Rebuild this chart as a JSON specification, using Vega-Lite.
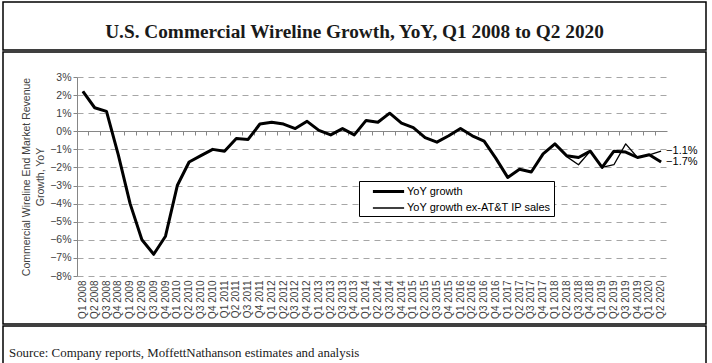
{
  "$schema": "https://vega.github.io/schema/vega-lite/v6.json",
  "padding": {"left": 2, "top": 1, "right": 0, "bottom": 0},
  "spacing": 0,
  "background": "white",
  "config": {"view": {"stroke": "black", "strokeWidth": 1.5}, "font": "Liberation Sans"},
  "vconcat": [
    {
      "width": 703,
      "height": 48,
      "data": {"values": [{"title": "U.S. Commercial Wireline Growth, YoY, Q1 2008 to Q2 2020"}]},
      "mark": {"type": "text", "font": "Liberation Serif", "fontWeight": "bold", "fontSize": 19.3, "baseline": "alphabetic", "align": "center", "color": "#1a1a1a"},
      "encoding": {
        "text": {"field": "title"},
        "x": {"datum": 0.5, "type": "quantitative", "scale": {"domain": [0, 1]}, "axis": null},
        "y": {"datum": 0.25, "type": "quantitative", "scale": {"domain": [0, 1]}, "axis": null}
      }
    },
    {
      "width": 703,
      "height": 272,
      "data": {"values": [
        {"quarter": "Q1 2008", "series": "YoY growth", "value": 0.022},
        {"quarter": "Q2 2008", "series": "YoY growth", "value": 0.013},
        {"quarter": "Q3 2008", "series": "YoY growth", "value": 0.011},
        {"quarter": "Q4 2008", "series": "YoY growth", "value": -0.013},
        {"quarter": "Q1 2009", "series": "YoY growth", "value": -0.040},
        {"quarter": "Q2 2009", "series": "YoY growth", "value": -0.060},
        {"quarter": "Q3 2009", "series": "YoY growth", "value": -0.068},
        {"quarter": "Q4 2009", "series": "YoY growth", "value": -0.058},
        {"quarter": "Q1 2010", "series": "YoY growth", "value": -0.030},
        {"quarter": "Q2 2010", "series": "YoY growth", "value": -0.017},
        {"quarter": "Q3 2010", "series": "YoY growth", "value": -0.0135},
        {"quarter": "Q4 2010", "series": "YoY growth", "value": -0.010},
        {"quarter": "Q1 2011", "series": "YoY growth", "value": -0.011},
        {"quarter": "Q2 2011", "series": "YoY growth", "value": -0.004},
        {"quarter": "Q3 2011", "series": "YoY growth", "value": -0.0045},
        {"quarter": "Q4 2011", "series": "YoY growth", "value": 0.004},
        {"quarter": "Q1 2012", "series": "YoY growth", "value": 0.005},
        {"quarter": "Q2 2012", "series": "YoY growth", "value": 0.004},
        {"quarter": "Q3 2012", "series": "YoY growth", "value": 0.0015},
        {"quarter": "Q4 2012", "series": "YoY growth", "value": 0.0055},
        {"quarter": "Q1 2013", "series": "YoY growth", "value": 0.0005},
        {"quarter": "Q2 2013", "series": "YoY growth", "value": -0.002},
        {"quarter": "Q3 2013", "series": "YoY growth", "value": 0.0015},
        {"quarter": "Q4 2013", "series": "YoY growth", "value": -0.002},
        {"quarter": "Q1 2014", "series": "YoY growth", "value": 0.006},
        {"quarter": "Q2 2014", "series": "YoY growth", "value": 0.005},
        {"quarter": "Q3 2014", "series": "YoY growth", "value": 0.010},
        {"quarter": "Q4 2014", "series": "YoY growth", "value": 0.0045},
        {"quarter": "Q1 2015", "series": "YoY growth", "value": 0.002},
        {"quarter": "Q2 2015", "series": "YoY growth", "value": -0.0035},
        {"quarter": "Q3 2015", "series": "YoY growth", "value": -0.006},
        {"quarter": "Q4 2015", "series": "YoY growth", "value": -0.0025},
        {"quarter": "Q1 2016", "series": "YoY growth", "value": 0.0015},
        {"quarter": "Q2 2016", "series": "YoY growth", "value": -0.0025},
        {"quarter": "Q3 2016", "series": "YoY growth", "value": -0.0055},
        {"quarter": "Q4 2016", "series": "YoY growth", "value": -0.015},
        {"quarter": "Q1 2017", "series": "YoY growth", "value": -0.0255},
        {"quarter": "Q2 2017", "series": "YoY growth", "value": -0.021},
        {"quarter": "Q3 2017", "series": "YoY growth", "value": -0.0225},
        {"quarter": "Q4 2017", "series": "YoY growth", "value": -0.0125},
        {"quarter": "Q1 2018", "series": "YoY growth", "value": -0.007},
        {"quarter": "Q2 2018", "series": "YoY growth", "value": -0.0135},
        {"quarter": "Q3 2018", "series": "YoY growth", "value": -0.0145},
        {"quarter": "Q4 2018", "series": "YoY growth", "value": -0.011},
        {"quarter": "Q1 2019", "series": "YoY growth", "value": -0.020},
        {"quarter": "Q2 2019", "series": "YoY growth", "value": -0.011},
        {"quarter": "Q3 2019", "series": "YoY growth", "value": -0.0115},
        {"quarter": "Q4 2019", "series": "YoY growth", "value": -0.0145},
        {"quarter": "Q1 2020", "series": "YoY growth", "value": -0.013},
        {"quarter": "Q2 2020", "series": "YoY growth", "value": -0.017},
        {"quarter": "Q1 2008", "series": "YoY growth ex-AT&T IP sales", "value": 0.022},
        {"quarter": "Q2 2008", "series": "YoY growth ex-AT&T IP sales", "value": 0.013},
        {"quarter": "Q3 2008", "series": "YoY growth ex-AT&T IP sales", "value": 0.011},
        {"quarter": "Q4 2008", "series": "YoY growth ex-AT&T IP sales", "value": -0.013},
        {"quarter": "Q1 2009", "series": "YoY growth ex-AT&T IP sales", "value": -0.040},
        {"quarter": "Q2 2009", "series": "YoY growth ex-AT&T IP sales", "value": -0.060},
        {"quarter": "Q3 2009", "series": "YoY growth ex-AT&T IP sales", "value": -0.068},
        {"quarter": "Q4 2009", "series": "YoY growth ex-AT&T IP sales", "value": -0.058},
        {"quarter": "Q1 2010", "series": "YoY growth ex-AT&T IP sales", "value": -0.030},
        {"quarter": "Q2 2010", "series": "YoY growth ex-AT&T IP sales", "value": -0.017},
        {"quarter": "Q3 2010", "series": "YoY growth ex-AT&T IP sales", "value": -0.0135},
        {"quarter": "Q4 2010", "series": "YoY growth ex-AT&T IP sales", "value": -0.010},
        {"quarter": "Q1 2011", "series": "YoY growth ex-AT&T IP sales", "value": -0.011},
        {"quarter": "Q2 2011", "series": "YoY growth ex-AT&T IP sales", "value": -0.004},
        {"quarter": "Q3 2011", "series": "YoY growth ex-AT&T IP sales", "value": -0.0045},
        {"quarter": "Q4 2011", "series": "YoY growth ex-AT&T IP sales", "value": 0.004},
        {"quarter": "Q1 2012", "series": "YoY growth ex-AT&T IP sales", "value": 0.005},
        {"quarter": "Q2 2012", "series": "YoY growth ex-AT&T IP sales", "value": 0.004},
        {"quarter": "Q3 2012", "series": "YoY growth ex-AT&T IP sales", "value": 0.0015},
        {"quarter": "Q4 2012", "series": "YoY growth ex-AT&T IP sales", "value": 0.0055},
        {"quarter": "Q1 2013", "series": "YoY growth ex-AT&T IP sales", "value": 0.0005},
        {"quarter": "Q2 2013", "series": "YoY growth ex-AT&T IP sales", "value": -0.002},
        {"quarter": "Q3 2013", "series": "YoY growth ex-AT&T IP sales", "value": 0.0015},
        {"quarter": "Q4 2013", "series": "YoY growth ex-AT&T IP sales", "value": -0.002},
        {"quarter": "Q1 2014", "series": "YoY growth ex-AT&T IP sales", "value": 0.006},
        {"quarter": "Q2 2014", "series": "YoY growth ex-AT&T IP sales", "value": 0.005},
        {"quarter": "Q3 2014", "series": "YoY growth ex-AT&T IP sales", "value": 0.010},
        {"quarter": "Q4 2014", "series": "YoY growth ex-AT&T IP sales", "value": 0.0045},
        {"quarter": "Q1 2015", "series": "YoY growth ex-AT&T IP sales", "value": 0.002},
        {"quarter": "Q2 2015", "series": "YoY growth ex-AT&T IP sales", "value": -0.0035},
        {"quarter": "Q3 2015", "series": "YoY growth ex-AT&T IP sales", "value": -0.006},
        {"quarter": "Q4 2015", "series": "YoY growth ex-AT&T IP sales", "value": -0.0025},
        {"quarter": "Q1 2016", "series": "YoY growth ex-AT&T IP sales", "value": 0.0015},
        {"quarter": "Q2 2016", "series": "YoY growth ex-AT&T IP sales", "value": -0.0025},
        {"quarter": "Q3 2016", "series": "YoY growth ex-AT&T IP sales", "value": -0.0055},
        {"quarter": "Q4 2016", "series": "YoY growth ex-AT&T IP sales", "value": -0.015},
        {"quarter": "Q1 2017", "series": "YoY growth ex-AT&T IP sales", "value": -0.0255},
        {"quarter": "Q2 2017", "series": "YoY growth ex-AT&T IP sales", "value": -0.021},
        {"quarter": "Q3 2017", "series": "YoY growth ex-AT&T IP sales", "value": -0.0225},
        {"quarter": "Q4 2017", "series": "YoY growth ex-AT&T IP sales", "value": -0.0125},
        {"quarter": "Q1 2018", "series": "YoY growth ex-AT&T IP sales", "value": -0.007},
        {"quarter": "Q2 2018", "series": "YoY growth ex-AT&T IP sales", "value": -0.014},
        {"quarter": "Q3 2018", "series": "YoY growth ex-AT&T IP sales", "value": -0.0185},
        {"quarter": "Q4 2018", "series": "YoY growth ex-AT&T IP sales", "value": -0.011},
        {"quarter": "Q1 2019", "series": "YoY growth ex-AT&T IP sales", "value": -0.020},
        {"quarter": "Q2 2019", "series": "YoY growth ex-AT&T IP sales", "value": -0.0185},
        {"quarter": "Q3 2019", "series": "YoY growth ex-AT&T IP sales", "value": -0.007},
        {"quarter": "Q4 2019", "series": "YoY growth ex-AT&T IP sales", "value": -0.0145},
        {"quarter": "Q1 2020", "series": "YoY growth ex-AT&T IP sales", "value": -0.013},
        {"quarter": "Q2 2020", "series": "YoY growth ex-AT&T IP sales", "value": -0.011}
      ]},
      "layer": [
        {
          "mark": {"type": "line", "color": "black", "strokeJoin": "round"},
          "encoding": {
            "x": {
              "field": "quarter", "type": "ordinal", "sort": null,
              "scale": {"type": "band", "range": [74, 664], "paddingInner": 0, "paddingOuter": 0,
                "domain": ["Q1 2008","Q2 2008","Q3 2008","Q4 2008","Q1 2009","Q2 2009","Q3 2009","Q4 2009","Q1 2010","Q2 2010","Q3 2010","Q4 2010","Q1 2011","Q2 2011","Q3 2011","Q4 2011","Q1 2012","Q2 2012","Q3 2012","Q4 2012","Q1 2013","Q2 2013","Q3 2013","Q4 2013","Q1 2014","Q2 2014","Q3 2014","Q4 2014","Q1 2015","Q2 2015","Q3 2015","Q4 2015","Q1 2016","Q2 2016","Q3 2016","Q4 2016","Q1 2017","Q2 2017","Q3 2017","Q4 2017","Q1 2018","Q2 2018","Q3 2018","Q4 2018","Q1 2019","Q2 2019","Q3 2019","Q4 2019","Q1 2020","Q2 2020"]},
              "axis": {"orient": "bottom", "offset": -48, "title": null, "domain": false, "ticks": false, "grid": false,
                "labelAngle": -90, "labelFontSize": 10, "labelColor": "#404040", "labelPadding": 4, "labelOverlap": false, "labelFont": "Liberation Sans"}
            },
            "y": {
              "field": "value", "type": "quantitative",
              "scale": {"domain": [-0.08, 0.03], "range": [224, 25], "nice": false, "zero": false},
              "axis": {"orient": "left", "offset": -74, "format": ".0%",
                "values": [0.03, 0.02, 0.01, 0, -0.01, -0.02, -0.03, -0.04, -0.05, -0.06, -0.07, -0.08],
                "tickCount": 12, "labelOverlap": false,
                "grid": true, "gridDash": [6, 5], "gridColor": "#a6a6a6", "gridWidth": 1,
                "domainColor": "#868686", "tickColor": "#868686", "tickSize": 4,
                "labelFontSize": 10.5, "labelColor": "#404040", "labelPadding": 2, "labelFont": "Liberation Sans",
                "title": ["Commercial Wireline End Market Revenue", "Growth, YoY"],
                "titleFontSize": 10.5, "titleFontWeight": "normal", "titleColor": "#404040", "titlePadding": 4, "titleLineHeight": 14, "titleFont": "Liberation Sans"}
            },
            "strokeWidth": {
              "field": "series", "type": "nominal",
              "scale": {"domain": ["YoY growth", "YoY growth ex-AT&T IP sales"], "range": [3, 1.3]},
              "legend": {"orient": "none", "legendX": 356, "legendY": 179, "title": null,
                "strokeColor": "black", "fillColor": "white", "padding": 3,
                "symbolSize": 144, "symbolType": "M-2.6,0L2.6,0", "symbolStrokeColor": "black",
                "labelFontSize": 11, "labelColor": "black", "labelFont": "Liberation Sans",
                "rowPadding": 3, "labelOffset": 11, "symbolOffset": 19}
            }
          }
        },
        {
          "transform": [{"filter": "datum.quarter === 'Q2 2020'"}],
          "mark": {"type": "text", "align": "left", "dx": 5, "fontSize": 11, "baseline": "middle", "color": "black", "font": "Liberation Sans"},
          "encoding": {
            "x": {"field": "quarter", "type": "ordinal", "sort": null,
              "axis": {"orient": "top", "offset": -79, "labels": false, "title": null, "domain": true, "domainColor": "#868686",
                "ticks": true, "tickSize": -4, "tickColor": "#868686", "bandPosition": 0, "grid": false}},
            "y": {"field": "value", "type": "quantitative", "axis": null},
            "text": {"field": "value", "type": "quantitative", "format": ".1%"}
          }
        }
      ],
      "resolve": {"axis": {"x": "independent", "y": "independent"}}
    },
    {
      "width": 703,
      "height": 41,
      "data": {"values": [{"source": "Source: Company reports, MoffettNathanson estimates and analysis"}]},
      "mark": {"type": "text", "font": "Liberation Serif", "fontSize": 12.9, "baseline": "alphabetic", "align": "left", "dx": 6, "color": "#1a1a1a"},
      "encoding": {
        "text": {"field": "source"},
        "x": {"datum": 0, "type": "quantitative", "scale": {"domain": [0, 1]}, "axis": null},
        "y": {"datum": 0.24, "type": "quantitative", "scale": {"domain": [0, 1]}, "axis": null}
      }
    }
  ]
}
